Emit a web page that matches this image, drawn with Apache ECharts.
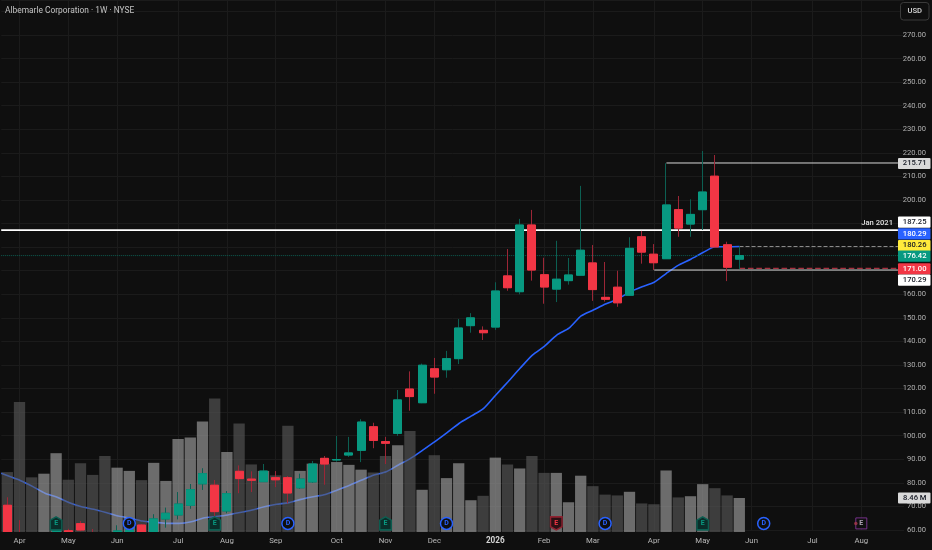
<!DOCTYPE html>
<html>
<head>
<meta charset="utf-8">
<style>html,body{margin:0;padding:0;background:#0f0f0f}#c{width:932px;height:550px}</style>
<script src="https://cdn.jsdelivr.net/npm/echarts@6/dist/echarts.min.js"></script>
</head>
<body>
<div id="c"></div>
<script>
const tickLabels = ['', 'Apr', '', '', '', 'May', '', '', '', 'Jun', '', '', '', '', 'Jul', '', '', '', 'Aug', '', '', '', 'Sep', '', '', '', '', 'Oct', '', '', '', 'Nov', '', '', '', 'Dec', '', '', '', '', '2026', '', '', '', 'Feb', '', '', '', 'Mar', '', '', '', '', 'Apr', '', '', '', 'May', '', '', '', 'Jun', '', '', '', '', 'Jul', '', '', '', 'Aug', '', '', ''];
const opens  = [70.5,58,57,54,55,59.7,62.7,58,57,57,58,62.1,57,64.7,66.4,70.5,79.6,79,68.1,84.9,81.6,80.5,82.2,82.2,77.9,80.4,90.4,89.7,91.8,93.8,103.8,97.5,101,119.8,114,128.4,128,132.7,146.7,144.7,146.1,167.8,161.1,189.4,168.3,162.2,165.8,168.1,173.3,158.7,163,159.6,184.4,177,175.1,195.9,189.8,195.9,210.1,181,174.9];
const closes = [55,55,54,57,60,55,60,56,55,59.6,60,56,64.7,67.1,71,77.1,83.9,67.8,75.4,81.8,81.1,85,81.3,75.7,81.6,88,88,89.9,92.7,105.8,98,96.8,115.2,116.6,129.9,124.9,132.7,145.7,150,143.7,161.4,162.8,189.4,170.3,163.1,166.4,168.2,178.7,162,157.9,156.4,179.5,177.9,173.4,197.9,188.1,193.9,203.4,180.1,171.5,176.42];
const lows   = [52,52,52,52,54,53,59.5,54,53,55,56,55,56,61,64.5,69,77,65.9,67.1,75.6,76.1,80.5,78.2,71.3,77.5,80,79.2,89,91,88.8,94.7,88,99.9,110.6,113.8,117.8,124.6,130.4,143.7,140.6,144.9,161.5,160,165.8,156,156.7,164.1,168.1,157.2,156.9,154.7,159.3,173,170.3,175.1,184.4,184.4,187.3,180.1,165.6,170.7];
const highs  = [73.9,64.2,58.5,58.5,62,60.5,63.8,60.4,59,62,61.5,62.5,66.7,69.5,76.1,79.5,86.2,81.2,76.5,87.4,84.9,88,85,82.9,83.9,89.3,91.4,99.9,99.5,107,105.5,99.5,119.4,127.3,130.6,133,136,149.5,152,146.4,165.1,179.2,192,195.8,175.5,182.7,175.4,206,180.9,173.7,170,184.2,186.9,181.3,215.6,201.7,200.3,220.8,219.1,182.3,180.3];
const volumes = [14.9,32.3,13.6,14.5,19.6,13.0,17.1,14.2,18.9,16.0,15.2,12.9,17.2,12.7,23.1,23.5,27.5,33.2,19.9,27.0,16.8,15.2,14.1,26.4,15.2,17.0,17.0,17.4,16.7,15.5,14.8,18.9,21.6,25.1,10.5,19.1,13.4,17.1,7.9,9.0,18.5,16.8,15.8,18.9,14.7,14.7,7.4,14.0,11.4,9.3,9.1,10.0,7.1,6.9,15.3,8.6,8.9,11.9,10.9,9.1,8.46];
const maValues = [82.9,80.9,78.4,75.6,73.9,71.6,69.9,68.8,67.4,65.9,65,63.8,63.3,62.8,62.8,63.5,65.1,65.7,66.4,67.4,68.5,69.9,70.9,71.6,73,74.1,75.1,77,79,81.2,83.3,84.7,87.6,90.4,93.9,97.5,101.3,105.3,108.4,111.6,117.3,122.9,128.7,134.2,138,142.7,145.6,150.8,153.3,155.9,157.9,161,163.2,165.1,168.9,172.4,174.9,177.7,180.2,180.2,180.29];
const maFirstValue = 84.1;
const earningsBeat = [4,17,31,57];
const earningsMiss = [45];
const earningsNext = [70];
const dividends = [10,23,36,49,62];
const markerPrice = 62.8;

const BG='#0f0f0f', UP='#089981', DOWN='#f23645', UPW='#0c5f52', DOWNW='#9c2636';
const FONT='Roboto, "Liberation Sans", sans-serif';

function levelSeries(fromIdx, toIdx, price, color, width, type) {
  return {type:'line', xAxisIndex:1, yAxisIndex:0, z:3, silent:true, symbol:'none', animation:false,
    data:[[fromIdx,price],[toIdx,price]], lineStyle:{color, width, type}};
}
// price tags in right column: text, value, background, foreground, vertical shift
const priceTags = [
  ['215.71',215.71,'#d9d9d9','#131722',0.5],
  ['187.25',187.25,'#ffffff','#131722',-8],
  ['180.29',180.29,'#2962ff','#ffffff',-12.5],
  ['180.26',180.26,'#ffeb3b','#131722',-1],
  ['176.42',176.42,UP,'#ffffff',0.5],
  ['171.00',171.00,DOWN,'#ffffff',0.5],
  ['170.29',170.29,'#ffffff','#131722',10]
];
const volumeTags = [['8.46 M',8.46,'#d9d9d9','#131722',0]];

function tagSeries(rows, yIndex, xIndex) {
  return {type:'custom', xAxisIndex:xIndex, yAxisIndex:yIndex, z:20, silent:true, animation:false,
    data: rows.map((r,i)=>[0,r[1],i]),
    renderItem(params, api){
      const r = rows[api.value(2)];
      const y = api.coord([0, api.value(1)])[1] + r[4];
      return {type:'group', children:[
        {type:'rect', shape:{x:898,y:y-5.6,width:32.5,height:11.2,r:1}, style:{fill:r[2]}},
        {type:'text', style:{x:926.5,y:y,text:r[0],fill:r[3],font:'500 7.6px '+FONT,textAlign:'right',textVerticalAlign:'middle'}}
      ]};
    }};
}
function marker(name, idx, symbol, size, fill, border, text, extra) {
  return Object.assign({name, type:'scatter', xAxisIndex:0, yAxisIndex:0, z:8, silent:true, animation:false, clip:false,
    symbol, symbolSize:size, data:idx.map(i=>[i,markerPrice]),
    itemStyle:{color:fill,borderColor:border,borderWidth:1.5,opacity:1},
    label:{show:true,position:'inside',formatter:name,fontSize:7,fontWeight:'bold',color:text,fontFamily:FONT}}, extra||{});
}

const n = opens.length;
const idxs = tickLabels.map((t,i)=>i).filter(i=>tickLabels[i]!=='');
const maPairs = [[-0.6,maFirstValue]].concat(maValues.map((v,i)=>[i,v]));
const chart = echarts.init(document.getElementById('c'));
chart.setOption({
  animation:false,
  backgroundColor:BG,
  title:{text:'Albemarle Corporation · 1W · NYSE', left:5, top:6.5, padding:0,
    textStyle:{color:'#c2c2c2',fontSize:8.4,fontWeight:'normal',fontFamily:FONT}},
  graphic:[
    {type:'rect', z:50, silent:true, shape:{x:0,y:532,width:932,height:18}, style:{fill:BG}},
    {type:'rect', z:50, silent:true, shape:{x:900.5,y:2.5,width:28.5,height:17.5,r:3}, style:{fill:BG,stroke:'#3a3a3a',lineWidth:1}},
    {type:'text', z:51, silent:true, style:{x:914.7,y:11.3,text:'USD',fill:'#d8d8d8',font:'500 7.6px '+FONT,textAlign:'center',textVerticalAlign:'middle'}}
  ],
  grid:[
    {left:1.2,top:0,width:902.8,height:530},
    {left:1.2,top:0,width:902.8,height:532}
  ],
  xAxis:[
    {type:'category',gridIndex:0,data:tickLabels,boundaryGap:true,axisLine:{show:false},axisTick:{show:false},axisLabel:{show:false},splitLine:{show:false}},
    {type:'value',gridIndex:0,position:'top',show:false,min:-0.6,max:73.5,splitLine:{show:false}},
    {type:'category',gridIndex:1,data:tickLabels,boundaryGap:true,z:60,axisLine:{show:false},axisTick:{show:false},splitLine:{show:false},
      axisLabel:{interval:0,margin:5,fontSize:7.8,color:'#b8b8b8',fontFamily:FONT,hideOverlap:false,
        formatter:v=>v==='2026'?'{b|2026}':v, rich:{b:{fontWeight:'bold',fontSize:8.2,color:'#d4d4d4',fontFamily:FONT}}}}
  ],
  yAxis:[
    {type:'value',gridIndex:0,position:'right',min:60,max:284.86,interval:10,
      axisLine:{show:false},axisTick:{show:false},
      splitLine:{show:true,lineStyle:{color:'#1b1b1b',width:1}},
      axisLabel:{inside:false,margin:22,align:'right',fontSize:7.6,color:'#b0b0b0',fontFamily:FONT,
        showMaxLabel:false,formatter:v=>v>275?'':v.toFixed(2)}},
    {type:'value',gridIndex:1,position:'left',show:false,min:0,max:132.3,splitLine:{show:false}}
  ],
  series:[
    {name:'months',type:'line',xAxisIndex:0,yAxisIndex:0,z:0,silent:true,data:[],
      markLine:{z:0,silent:true,symbol:'none',label:{show:false},animation:false,lineStyle:{color:'#1b1b1b',width:1,type:'solid'},
        data:idxs.map(i=>({xAxis:i}))}},
    {name:'MA',type:'line',xAxisIndex:1,yAxisIndex:0,z:1,silent:true,symbol:'none',smooth:0.25,
      data:maPairs,lineStyle:{color:'#2962ff',width:1.6}},
    {name:'Volume',type:'bar',xAxisIndex:2,yAxisIndex:1,z:2,silent:true,barWidth:11.3,
      data:volumes.map((v,i)=>({value:v,itemStyle:{color:closes[i]>=opens[i]?'rgba(170,170,170,0.6)':'rgba(92,92,92,0.6)'}}))},
    levelSeries(-0.6,73,176.42,'#0c5f52',1,'dotted'),
    levelSeries(60,73,180.26,'#8e8e8e',1,'dashed'),
    levelSeries(60,73,171,'#a8303f',1.4,'dashed'),
    levelSeries(53,73,170.29,'#d8d8d8',1,'solid'),
    levelSeries(54,73,215.71,'#d8d8d8',1,'solid'),
    levelSeries(-0.6,73,187.25,'#ffffff',1.8,'solid'),
    {name:'wicks',type:'candlestick',xAxisIndex:0,yAxisIndex:0,z:5,silent:true,clip:false,barWidth:8.5,
      data:opens.map((o,i)=>[o,closes[i],lows[i],highs[i]]),
      itemStyle:{color:UPW,color0:DOWNW,borderColor:UPW,borderColor0:DOWNW,borderWidth:1}},
    {name:'bodies',type:'candlestick',xAxisIndex:0,yAxisIndex:0,z:6,silent:true,clip:false,barWidth:8.5,
      data:opens.map((o,i)=>[o,closes[i],Math.min(o,closes[i]),Math.max(o,closes[i])]),
      itemStyle:{color:UP,color0:DOWN,borderColor:UP,borderColor0:DOWN,borderWidth:1}},
    marker('E',earningsBeat,'path://M5 0L10 3L10 12L0 12L0 3Z',[11.5,13],'#0a2e2a','#0c5f52',UP),
    marker('E',earningsMiss,'path://M0 0L10 0L10 9L5 12L0 9Z',[11.5,13],'#2b1014','#8f2230',DOWN),
    marker('E',earningsNext,'rect',[11,11],BG,'#8e3aa8','#d6c8dc',{itemStyle:{color:BG,borderColor:'#8e3aa8',borderWidth:1}}),
    {type:'scatter',xAxisIndex:0,yAxisIndex:0,z:9,silent:true,symbol:'circle',symbolSize:3.5,symbolOffset:[-5.5,0],
      data:earningsNext.map(i=>[i,markerPrice]),itemStyle:{color:'#a83a4a'}},
    marker('D',dividends,'circle',12,BG,'#2962ff','#2962ff'),
    tagSeries(priceTags,0,0),
    tagSeries(volumeTags,1,2),
    {type:'custom',xAxisIndex:0,yAxisIndex:0,z:20,silent:true,data:[[0,187.25]],
      renderItem(params,api){
        const y=api.coord([0,api.value(1)])[1]-7;
        return {type:'text',style:{x:893,y,text:'Jan 2021',fill:'#e0e0e0',font:'500 7.6px '+FONT,textAlign:'right',textVerticalAlign:'middle'}};
      }}
  ]
});
</script>
</body>
</html>
